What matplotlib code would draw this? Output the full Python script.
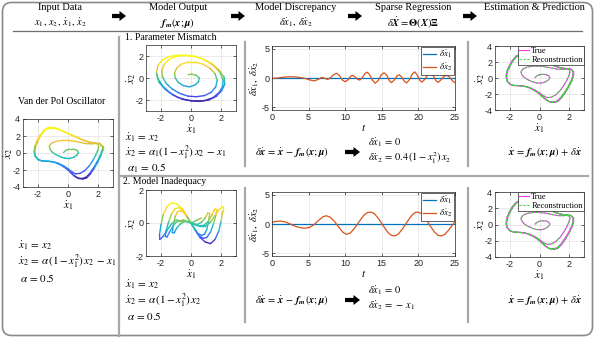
import numpy as np
import matplotlib
matplotlib.use('Agg')
import matplotlib.pyplot as plt
from matplotlib.collections import LineCollection
from matplotlib.colors import LinearSegmentedColormap, Normalize
from matplotlib.patches import FancyArrow, FancyBboxPatch

plt.rcParams['mathtext.fontset'] = 'stix'
plt.rcParams['font.family'] = ['Liberation Serif', 'DejaVu Serif']
plt.rcParams['axes.unicode_minus'] = False

# ---------------- data ----------------
# true Van der Pol trajectory (xdot1, xdot2)
vdp_x = [-0.30, -0.15, 0.10, 0.40, 0.62, 0.70, 0.60, 0.38, 0.10, -0.20, -0.50, -0.80, -1.05, -1.20,
         -1.25, -1.10, -0.80, -0.40, 0.00, 0.40, 0.80, 1.20, 1.55, 1.85, 2.00, 2.05, 1.98, 1.85, 1.65, 1.40,
         1.10, 0.80, 0.50, 0.25, 0.00, -0.30, -0.65, -1.00, -1.40, -1.75, -2.00,
         -2.18, -2.22, -2.15, -2.00, -1.80, -1.55, -1.25, -0.95, -0.60, -0.20, 0.25, 0.70, 1.10, 1.45, 1.80,
         2.10, 2.25, 2.25, 2.15, 1.95, 1.70, 1.45, 1.20, 0.95, 0.65, 0.40, 0.15, -0.15, -0.50, -0.90, -1.30,
         -1.70, -2.00, -2.20,
         -2.26, -2.20, -2.05, -1.85, -1.60, -1.30, -1.00, -0.65, -0.25, 0.20, 0.65, 1.05, 1.42, 1.80, 2.12,
         2.30, 2.30, 2.20, 2.00, 1.75, 1.50, 1.25, 1.00, 0.70, 0.42, 0.18]
vdp_y = [0.05, 0.30, 0.45, 0.45, 0.30, 0.05, -0.25, -0.50, -0.65, -0.62, -0.45, -0.20, 0.10, 0.45,
         0.80, 1.15, 1.38, 1.48, 1.48, 1.40, 1.25, 1.10, 1.08, 1.12, 1.05, 0.75, 0.30, -0.25, -0.90, -1.55,
         -2.10, -2.40, -2.45, -2.20, -1.85, -1.50, -1.20, -1.02, -0.95, -0.92, -0.75,
         -0.35, 0.20, 0.80, 1.45, 2.10, 2.65, 2.95, 2.95, 2.75, 2.45, 2.10, 1.75, 1.45, 1.25, 1.15,
         1.10, 0.80, 0.30, -0.30, -1.00, -1.75, -2.40, -2.85, -3.00, -2.95, -2.65, -2.25, -1.80, -1.40, -1.10, -0.98,
         -0.95, -0.78, -0.35,
         0.20, 0.85, 1.50, 2.15, 2.70, 3.02, 3.02, 2.82, 2.50, 2.15, 1.80, 1.50, 1.28, 1.18, 1.12,
         0.82, 0.30, -0.30, -1.02, -1.80, -2.45, -2.92, -3.06, -3.00, -2.70, -2.30]

# model output, parameter mismatch
pm_x = [-0.20, 0.05, 0.35, 0.55, 0.50, 0.25, -0.10, -0.50, -0.85, -1.05, -1.10, -0.95, -0.65, -0.20, 0.30,
        0.80, 1.25, 1.60, 1.75, 1.65, 1.35, 0.90, 0.35, -0.20, -0.75, -1.25, -1.65, -1.90, -1.95, -1.80,
        -1.50, -1.05, -0.50, 0.10, 0.65, 1.15, 1.60, 1.95, 2.15, 2.10, 1.85, 1.45, 0.90, 0.30, -0.30,
        -0.90, -1.45, -1.90, -2.20, -2.30, -2.20, -1.90, -1.45, -0.90, -0.30, 0.30, 0.85, 1.40, 1.85, 2.20,
        2.25, 2.05, 1.70, 1.20, 0.60, 0.00, -0.60, -1.20, -1.75, -2.15, -2.30]
pm_y = [0.30, 0.35, 0.25, 0.00, -0.35, -0.65, -0.80, -0.70, -0.40, 0.00, 0.45, 0.90, 1.25, 1.45, 1.45,
        1.25, 0.90, 0.40, -0.20, -0.80, -1.30, -1.60, -1.70, -1.65, -1.40, -1.00, -0.50, 0.10, 0.65, 1.20,
        1.65, 1.95, 2.05, 2.00, 1.80, 1.45, 1.00, 0.45, -0.20, -0.80, -1.35, -1.80, -2.05, -2.10, -2.00,
        -1.75, -1.30, -0.70, -0.05, 0.55, 1.15, 1.65, 1.95, 2.08, 2.05, 1.95, 1.70, 1.30, 0.75, 0.10,
        -0.55, -1.15, -1.65, -2.00, -2.12, -2.08, -1.92, -1.55, -1.00, -0.35, 0.35]

# model output, model inadequacy
mi_x = [0.70, 0.45, 0.20, 0.00,
        -0.20, -0.45, -0.70, -0.90, -1.05, -1.15, -1.22, -1.25, -1.12, -0.95, -0.70, -0.40, -0.15, 0.00,
        0.20, 0.45, 0.70, 0.90, 1.05, 1.15, 1.22, 1.25, 1.12, 0.95, 0.70, 0.40, 0.15, 0.00,
        -0.25, -0.50, -0.80, -1.05, -1.30, -1.50, -1.65, -1.72, -1.60, -1.40, -1.15, -0.85, -0.50, -0.20, 0.00,
        0.25, 0.50, 0.80, 1.05, 1.30, 1.50, 1.65, 1.72, 1.60, 1.40, 1.15, 0.85, 0.50, 0.20, 0.00,
        -0.30, -0.60, -0.95, -1.30, -1.60, -1.85, -2.00, -2.10, -2.08, -1.85, -1.60, -1.30, -0.95, -0.55, -0.20, 0.00,
        0.30, 0.60, 0.95, 1.30, 1.60, 1.85, 2.00, 2.12, 2.12, 1.85, 1.60, 1.30, 0.95, 0.55, 0.20, 0.00]
mi_y = [0.30, 0.20, 0.08, 0.00,
        0.30, 0.62, 0.75, 0.68, 0.40, 0.00, -0.40, -0.58, -0.60, -0.30, -0.05, 0.10, 0.05, 0.00,
        -0.30, -0.62, -0.75, -0.68, -0.40, 0.00, 0.40, 0.58, 0.60, 0.30, 0.05, -0.10, -0.05, 0.00,
        0.38, 0.75, 0.92, 0.88, 0.55, 0.05, -0.45, -0.80, -0.85, -0.50, -0.10, 0.15, 0.15, 0.06, 0.00,
        -0.38, -0.75, -0.92, -0.88, -0.55, -0.05, 0.45, 0.80, 0.85, 0.50, 0.10, -0.15, -0.15, -0.06, 0.00,
        0.45, 0.88, 1.15, 1.22, 1.00, 0.50, -0.10, -0.70, -1.00, -0.80, -0.45, -0.05, 0.20, 0.20, 0.08, 0.00,
        -0.45, -0.88, -1.15, -1.25, -1.00, -0.50, 0.10, 0.70, 1.00, 0.80, 0.45, 0.05, -0.20, -0.20, -0.08, 0.00]

# discrepancy time series
t_pm = [0, 0.8, 1.6, 2.5, 3.3, 4.0, 4.6, 5.2, 5.8, 6.3, 6.8, 7.2, 7.6, 8.0, 8.4, 8.8, 9.2, 9.6, 10.0, 10.4,
        10.7, 11.0, 11.3, 11.7, 12.0, 12.3, 12.7, 13.0, 13.3, 13.7, 14.1, 14.5, 14.9, 15.3, 15.7, 16.0,
        16.3, 16.7, 17.1, 17.4, 17.7, 18.1, 18.4, 18.8, 19.2, 19.5, 19.8, 20.2, 20.5, 20.9, 21.3, 21.7,
        22.0, 22.4, 22.7, 23.1, 23.5, 23.9, 24.3, 24.7, 25.0]
d2_pm = [-0.08, 0.0, 0.15, 0.22, 0.18, 0.05, -0.10, -0.35, -0.50, -0.25, 0.10, -0.05, -0.25, 0.05, 0.55,
         0.80, 0.45, -0.35, -0.65, -0.30, 0.25, 0.45, 0.25, -0.25, -0.35, 0.00, 0.75, 1.00, 0.65, -0.35,
         -0.90, -0.45, 0.50, 0.90, 0.45, -0.40, -0.80, -0.35, 0.40, 0.55, 0.20, -0.60, -0.85, -0.25, 0.75,
         1.05, 0.60, -0.40, -0.70, -0.20, 0.60, 0.85, 0.45, -0.45, -0.75, -0.30, 0.30, 0.45, 0.10, -0.55, -0.80]
d1_pm = [0.0] * len(t_pm)

t_mi = [0, 0.6, 1.2, 1.8, 2.5, 3.2, 3.9, 4.5, 5.1, 5.7, 6.3, 6.9, 7.4, 7.9, 8.5, 9.1, 9.7, 10.2, 10.7,
        11.3, 11.9, 12.5, 13.0, 13.5, 14.0, 14.6, 15.2, 15.8, 16.3, 16.7, 17.2, 17.8, 18.4, 19.0, 19.5,
        19.9, 20.4, 21.0, 21.6, 22.2, 22.7, 23.1, 23.6, 24.2, 24.7, 25.0]
d2_mi = [0.30, 0.45, 0.50, 0.35, 0.00, -0.40, -0.65, -0.72, -0.60, -0.15, 0.55, 1.20, 1.42, 1.20, 0.50,
         -0.50, -1.45, -1.78, -1.55, -0.70, 0.40, 1.45, 1.95, 2.05, 1.75, 0.85, -0.30, -1.40, -1.95, -2.05,
         -1.80, -0.90, 0.25, 1.35, 1.95, 2.05, 1.80, 0.90, -0.30, -1.40, -1.95, -2.05, -1.80, -0.95, -0.10, 0.35]
d1_mi = [0.0] * len(t_mi)

phase_ticks = [-2, 0, 2]
time_ticks = [0, 5, 10, 15, 20, 25]
ts_yticks = [-5, 0, 5]

# ---------------- figure ----------------
W, H = 595, 338
fig = plt.figure(figsize=(W / 100, H / 100), dpi=100)

parula = LinearSegmentedColormap.from_list('parula', [
    (0.2422, 0.1504, 0.6603), (0.2810, 0.3228, 0.9579), (0.1786, 0.5289, 0.9682),
    (0.0689, 0.6948, 0.8394), (0.2161, 0.7843, 0.5923), (0.6720, 0.7793, 0.2227),
    (0.9970, 0.7659, 0.2199), (0.9598, 0.9218, 0.0948), (0.9769, 0.9839, 0.0805)])

ov = fig.add_axes([0, 0, 1, 1])
ov.set_xlim(0, W)
ov.set_ylim(H, 0)
ov.axis('off')

GRAY = '#a8a8a8'
ov.add_patch(FancyBboxPatch((2.5, 2.5), W - 5, H - 5, boxstyle='round,pad=0,rounding_size=9',
                            fc='none', ec='#8a8a8a', lw=1.2))
ov.plot([13, 582], [31, 31], color='#6e6e6e', lw=0.9)
ov.plot([119, 119], [37, 336], color=GRAY, lw=1.6)
for xs in (245, 468):
    ov.plot([xs, xs], [42, 166], color=GRAY, lw=1.6)
    ov.plot([xs, xs], [188, 322], color=GRAY, lw=1.6)
ov.plot([119, 588], [176, 176], color=GRAY, lw=1.6)

FS = 7.5
def txt(x, y, s, ha='center', fs=FS, **kw):
    ov.text(x, y, s, ha=ha, va='center', fontsize=fs, **kw)

def arrow(x, y, L=14):
    ov.add_patch(FancyArrow(x, y, L, 0, width=4.2, head_width=10, head_length=6.5,
                            length_includes_head=True, color='black', lw=0))

txt(60, 8, 'Input Data')
txt(60, 23, r'$x_1,\, x_2,\, \dot{x}_1,\, \dot{x}_2$')
txt(178, 8, 'Model Output')
txt(178, 23, r'$\mathbfit{f}_{\mathbfit{m}}(\mathbfit{x};\mathbfit{\mu})$')
txt(296, 8, 'Model Discrepancy')
txt(296, 23, r'$\delta\dot{x}_1,\, \delta\dot{x}_2$')
txt(413, 8, 'Sparse Regression')
txt(413, 23, r'$\delta\dot{\mathbfit{X}} = \mathbf{\Theta}(\mathbfit{X})\mathbf{\Xi}$')
txt(534, 8, 'Estimation & Prediction')
for ax0 in (112, 231, 348, 463):
    arrow(ax0, 16)

txt(125, 38, '1. Parameter Mismatch', ha='left', fs=7)
txt(123, 181, '2. Model Inadequacy', ha='left', fs=7)
txt(62, 102, 'Van der Pol Oscillator', fs=7)

# equations
EQ = 8
txt(18, 246, r'$\dot{x}_1\, =\, x_2$', ha='left', fs=EQ)
txt(18, 262, r'$\dot{x}_2\, =\, \alpha\,(1-x_1^2)\,x_2\, -\, x_1$', ha='left', fs=EQ)
txt(20, 278, r'$\alpha\, =\, 0.5$', ha='left', fs=EQ)
txt(125, 138, r'$\dot{x}_1\, =\, x_2$', ha='left', fs=EQ)
txt(125, 153, r'$\dot{x}_2\, =\, \alpha_1(1-x_1^2)\,x_2\, -\, x_1$', ha='left', fs=EQ)
txt(127, 168, r'$\alpha_1\, =\, 0.5$', ha='left', fs=EQ)
txt(125, 285, r'$\dot{x}_1\, =\, x_2$', ha='left', fs=EQ)
txt(125, 301, r'$\dot{x}_2\, =\, \alpha\,(1-x_1^2)\,x_2$', ha='left', fs=EQ)
txt(127, 316, r'$\alpha\, =\, 0.5$', ha='left', fs=EQ)

for yy, last in ((152, r'$\delta\dot{x}_2\, =\, 0.4\,(1-x_1^2)\,x_2$'), (300, r'$\delta\dot{x}_2\, =\, -\,x_1$')):
    txt(292, yy, r'$\delta\dot{\mathbfit{x}}\, =\, \dot{\mathbfit{x}}\, -\, \mathbfit{f}_{\mathbfit{m}}(\mathbfit{x};\mathbfit{\mu})$', fs=7.5)
    arrow(345, yy, 15)
    txt(368, yy - 9, r'$\delta\dot{x}_1\, =\, 0$', ha='left', fs=7.5)
    txt(368, yy + 6, last, ha='left', fs=7.5)
    txt(545, yy, r'$\dot{\mathbfit{x}}\, =\, \mathbfit{f}_{\mathbfit{m}}(\mathbfit{x};\mathbfit{\mu})\, +\, \delta\dot{\mathbfit{x}}$', fs=7.5)


def px_axes(x0, y0, x1, y1):
    return fig.add_axes([x0 / W, 1 - y1 / H, (x1 - x0) / W, (y1 - y0) / H])


def style(ax, xlim, ylim, xticks, yticks):
    ax.set_xlim(xlim)
    ax.set_ylim(ylim)
    ax.set_xticks(xticks)
    ax.set_yticks(yticks)
    ax.set_xticklabels([str(v) for v in xticks], fontfamily='Liberation Sans', fontsize=6.5)
    ax.set_yticklabels([str(v) for v in yticks], fontfamily='Liberation Sans', fontsize=6.5)
    ax.grid(True, color='#e2e2e2', lw=0.5)
    ax.set_axisbelow(True)
    ax.tick_params(direction='in', length=2, width=0.5, pad=2, colors='#262626', top=True, right=True)
    for s in ax.spines.values():
        s.set_linewidth(0.5)
        s.set_color('#262626')


def colored(ax, x, y, lw=1.0):
    x = np.asarray(x, float)
    y = np.asarray(y, float)
    pts = np.column_stack([x, y]).reshape(-1, 1, 2)
    segs = np.concatenate([pts[:-1], pts[1:]], axis=1)
    lc = LineCollection(segs, cmap=parula, norm=Normalize(y.min(), y.max()), linewidths=lw,
                        capstyle='round', joinstyle='round')
    lc.set_array((y[:-1] + y[1:]) / 2)
    ax.add_collection(lc)


def phase_labels(ax):
    ax.set_xlabel(r'$\dot{x}_1$', fontsize=8, labelpad=0)
    ax.set_ylabel(r'$\dot{x}_2$', fontsize=8, labelpad=-2)


# left: Van der Pol
ax = px_axes(23, 119, 113, 187)
colored(ax, vdp_x, vdp_y)
style(ax, (-3, 3), (-4, 4), phase_ticks, [-4, -2, 0, 2, 4])
phase_labels(ax)

# model output row 1 and 2
ax = px_axes(146, 45, 236, 111)
colored(ax, pm_x, pm_y)
style(ax, (-3, 3), (-3, 3), phase_ticks, phase_ticks)
phase_labels(ax)

ax = px_axes(146, 190, 236, 256)
colored(ax, mi_x, mi_y)
style(ax, (-3, 3), (-2, 2), phase_ticks, phase_ticks)
phase_labels(ax)

# discrepancy time series
for (y0, y1), tt, d1, d2 in (((46, 110), t_pm, d1_pm, d2_pm), ((192, 256), t_mi, d1_mi, d2_mi)):
    ax = px_axes(272, y0, 455, y1)
    ax.plot(tt, d1, color='#0072BD', lw=0.9, label=r'$\delta\dot{x}_1$')
    ax.plot(tt, d2, color='#D95319', lw=0.9, label=r'$\delta\dot{x}_2$')
    style(ax, (0, 25), (-5.5, 5.5), time_ticks, ts_yticks)
    ax.set_xlabel(r'$t$', fontsize=8, labelpad=0)
    ax.set_ylabel(r'$\delta\dot{x}_1,\ \delta\dot{x}_2$', fontsize=7.5, labelpad=0)
    lg = ax.legend(loc='upper right', fontsize=6.5, handlelength=1.4, handletextpad=0.3,
                   borderpad=0.2, labelspacing=0.15, borderaxespad=0.15, fancybox=False, framealpha=1)
    lg.get_frame().set_edgecolor('#262626')
    lg.get_frame().set_linewidth(0.5)

# estimation
for y0, y1 in ((46, 110), (192, 257)):
    ax = px_axes(495, y0, 584, y1)
    ax.plot(vdp_x, vdp_y, color='#ff33ff', lw=0.8, label='True')
    ax.plot(vdp_x, vdp_y, color='#33dd33', lw=0.8, ls=(0, (2, 1.5)), label='Reconstruction')
    style(ax, (-3, 3), (-4, 4), phase_ticks, [-4, -2, 0, 2, 4])
    phase_labels(ax)
    lg = ax.legend(loc='upper right', fontsize=6, handlelength=1.2, handletextpad=0.3,
                   borderpad=0.15, labelspacing=0.05, borderaxespad=0.0, fancybox=False, framealpha=1)
    lg.get_frame().set_edgecolor('#262626')
    lg.get_frame().set_linewidth(0.5)

fig.savefig('out.png', dpi=100)
